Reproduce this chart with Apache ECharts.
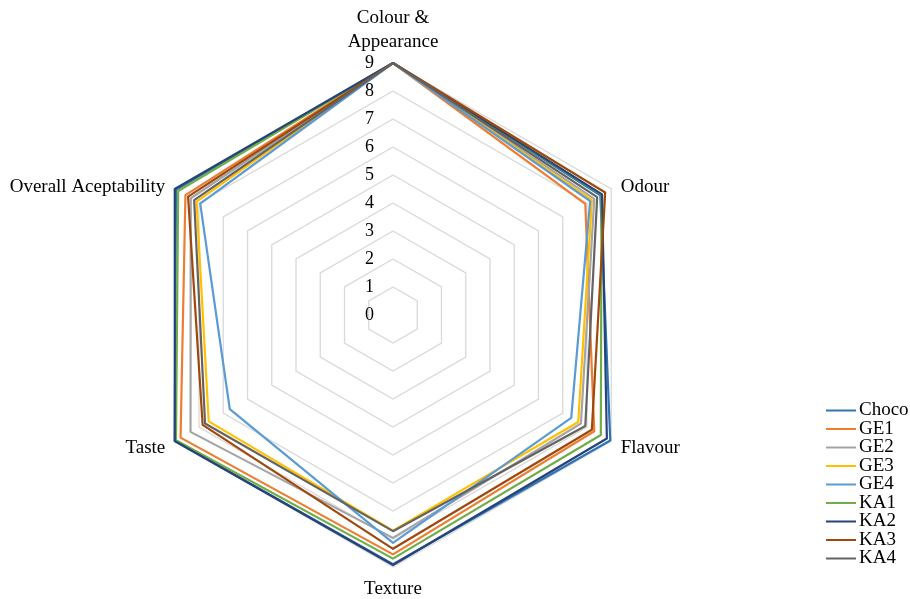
<!DOCTYPE html>
<html>
<head>
<meta charset="utf-8">
<script src="https://cdn.jsdelivr.net/npm/echarts@6/dist/echarts.min.js"></script>
<style>
  html, body { margin: 0; padding: 0; background: #fff; }
  #chart { width: 910px; height: 599px; }
</style>
</head>
<body>
<div id="chart"></div>
<script>
// Sensory attributes, listed clockwise from the top
const attributes = ['Colour &\nAppearance', 'Odour', 'Flavour', 'Texture', 'Taste', 'Overall Aceptability'];
const scaleMax = 9;

// Mean scores per sample, same order as attributes
const Choco = [9, 8.55, 8.96, 8.9, 9.0, 8.95];
const GE1 = [9, 7.93, 8.3, 8.55, 8.76, 8.56];
const GE2 = [9, 8.3, 7.75, 7.96, 8.35, 8.34];
const GE3 = [9, 8.2, 7.64, 7.7, 7.6, 8.1];
const GE4 = [9, 8.13, 7.35, 8.14, 6.73, 7.95];
const KA1 = [9, 8.6, 8.57, 8.7, 8.95, 8.86];
const KA2 = [9, 8.62, 8.82, 8.93, 9.0, 9.0];
const KA3 = [9, 8.75, 8.2, 8.35, 7.85, 8.45];
const KA4 = [9, 8.42, 7.93, 7.72, 7.75, 8.2];

const samples = [
  { name: 'Choco', values: Choco, color: '#2E75B6' },
  { name: 'GE1', values: GE1, color: '#ED7D31' },
  { name: 'GE2', values: GE2, color: '#A5A5A5' },
  { name: 'GE3', values: GE3, color: '#FFC000' },
  { name: 'GE4', values: GE4, color: '#5B9BD5' },
  { name: 'KA1', values: KA1, color: '#70AD47' },
  { name: 'KA2', values: KA2, color: '#264478' },
  { name: 'KA3', values: KA3, color: '#9E480E' },
  { name: 'KA4', values: KA4, color: '#636363' }
];

// ECharts lays radar indicators out counter-clockwise; reorder so they run clockwise
const order = [0].concat(attributes.map((_, i) => i).slice(1).reverse());

const indicator = order.map((idx, k) => ({
  name: attributes[idx],
  min: 0,
  max: scaleMax,
  axisLabel: { show: k === 0 }
}));

const serif = 'Liberation Serif, Times New Roman, serif';

// Extra spacing around individual attribute names
const nameStyle = {
  'Odour': 'o', 'Flavour': 'f', 'Texture': 'b', 'Taste': 't', 'Overall Aceptability': 'a'
};
const base = { fontFamily: serif, fontSize: 19, color: '#000' };

const chart = echarts.init(document.getElementById('chart'), null, { renderer: 'canvas' });
chart.setOption({
  animation: false,
  backgroundColor: '#fff',
  legend: {
    orient: 'vertical',
    left: 826,
    top: 401,
    padding: 0,
    height: 190,
    itemWidth: 30,
    itemHeight: 2,
    itemGap: -0.5,
    icon: 'rect',
    textStyle: { fontFamily: serif, fontSize: 19, color: '#000', padding: [0, 0, 0, -2] },
    data: samples.map(s => s.name)
  },
  radar: {
    center: [393, 315],
    radius: 252,
    startAngle: 90,
    shape: 'polygon',
    splitNumber: 9,
    nameGap: 4,
    axisName: {
      color: '#000',
      fontFamily: serif,
      fontSize: 19,
      lineHeight: 24,
      formatter: function (name) {
        const key = nameStyle[name];
        return key ? '{' + key + '|' + name + '}' : name;
      },
      rich: {
        o: Object.assign({ padding: [0, 0, 0, 6] }, base),
        f: Object.assign({ padding: [10, 0, 0, 6] }, base),
        b: Object.assign({ padding: [12, 0, 0, 0] }, base),
        t: Object.assign({ padding: [10, 6, 0, 0] }, base),
        a: Object.assign({ padding: [0, 6, 0, 0] }, base)
      }
    },
    axisLine: { show: false },
    axisTick: { show: false },
    axisLabel: {
      show: true,
      color: '#000',
      fontFamily: serif,
      fontSize: 18,
      margin: 19
    },
    splitLine: { lineStyle: { color: '#D9D9D9', width: 1.3 } },
    splitArea: { show: false },
    indicator: indicator
  },
  series: [{
    type: 'radar',
    symbol: 'none',
    data: samples.map(s => ({
      name: s.name,
      value: order.map(idx => s.values[idx]),
      lineStyle: { color: s.color, width: 2.2 },
      itemStyle: { color: s.color }
    }))
  }]
});
</script>
</body>
</html>
